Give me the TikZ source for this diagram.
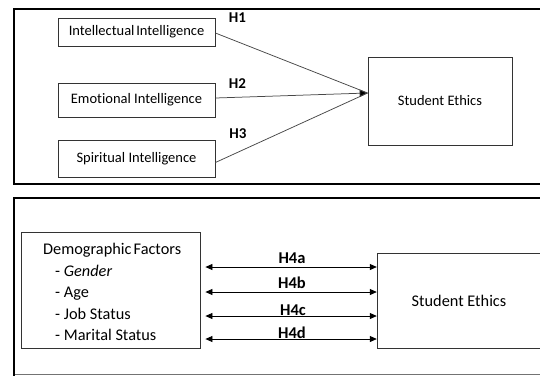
\documentclass[tikz,border=0pt]{standalone}
\usepackage{fontspec}
\setmainfont{Carlito}[Ligatures=NoCommon]
\usetikzlibrary{arrows.meta}
\begin{document}
\begin{tikzpicture}[x=1pt,y=-1pt,
  box/.style={draw=black!80, line width=0.8pt, fill=white, inner sep=0pt,
              font=\fontsize{14.5}{17}\selectfont},
  frame/.style={draw=black, line width=2.4pt},
  link/.style={draw=black!72, line width=0.75pt},
  hyp/.style={font=\bfseries\fontsize{15}{18}\selectfont, inner sep=0pt},
  hypb/.style={font=\bfseries\fontsize{16.5}{19}\selectfont, inner sep=0pt},
  big/.style={font=\fontsize{16.3}{21.5}\selectfont},
  dbl/.style={draw=black, line width=0.8pt,
              {Triangle[length=7pt,width=6pt]}-{Triangle[length=7pt,width=6pt]}},
  tip/.style={-{Triangle[length=8pt,width=7.5pt,fill=black]}}]
\useasboundingbox (0,0) rectangle (540,376);

% panel frames (open on the right)
\draw[frame] (541,9) -- (14,9) -- (14,184) -- (541,184);
\draw[frame] (541,198) -- (14,198) -- (14,376);
\draw[draw=black!55, line width=0.8pt] (15,374) -- (541,374);

% --- upper model ---
\node[box, minimum width=157pt, minimum height=28pt] (ii) at (136.5,32)
  {Intellectual\hspace{-1.5pt} Intelligence};
\node[box, minimum width=157pt, minimum height=34pt] (ei) at (136.5,100) {Emotional Intelligence};
\node[box, minimum width=157pt, minimum height=37pt] (si) at (136.5,158.5) {Spiritual Intelligence};
\node[box, minimum width=144pt, minimum height=88pt] (se) at (440,101) {Student Ethics};
\coordinate (meet) at ([yshift=8pt]se.west);

\draw[link] ([yshift=-1pt]ii.east) -- (meet);
\draw[link] ([yshift=-4pt]si.east) -- (meet);
\draw[link, tip] ([yshift=2pt]ei.east) -- (meet);

\node[hyp] (h1) at (237.5,18) {H1};
\node[hyp] (h2) at (237.5,84) {H2};
\node[hyp] (h3) at (238,134) {H3};

% --- lower model ---
\node[box, minimum width=179pt, minimum height=116pt] (dem) at (110.5,290) {};
\node[big, anchor=north west, align=left, inner sep=0pt] (demtxt) at (43,243)
  {Demographic\hspace{-1.5pt} Factors\\
   \hspace*{12pt}- \textit{Gender}\\
   \hspace*{12pt}- Age\\
   \hspace*{12pt}- Job Status\\
   \hspace*{12pt}- Marital Status};

\node[big, draw=none, minimum width=162pt, minimum height=94pt, inner sep=0pt]
  (se2) at (459,301) {Student Ethics};
\draw[draw=black!80, line width=0.8pt]
  (se2.north east) -- (se2.north west) -- (se2.south west) -- (se2.south east);

\draw[dbl] ([xshift=5pt,yshift=23pt]dem.east) -- ([xshift=-1pt,yshift=34pt]se2.west);
\draw[dbl] ([xshift=5pt,yshift=-2pt]dem.east) -- ([xshift=-1pt,yshift=9pt]se2.west);
\draw[dbl] ([xshift=5pt,yshift=-26pt]dem.east) -- ([xshift=-1pt,yshift=-15pt]se2.west);
\draw[dbl] ([xshift=5pt,yshift=-49pt]dem.east) -- ([xshift=-1pt,yshift=-38pt]se2.west);

\node[hypb] (h4a) at (292,258) {H4a};
\node[hypb] (h4b) at (292,283) {H4b};
\node[hypb] (h4c) at (293,310) {H4c};
\node[hypb] (h4d) at (292,333) {H4d};
\end{tikzpicture}
\end{document}
